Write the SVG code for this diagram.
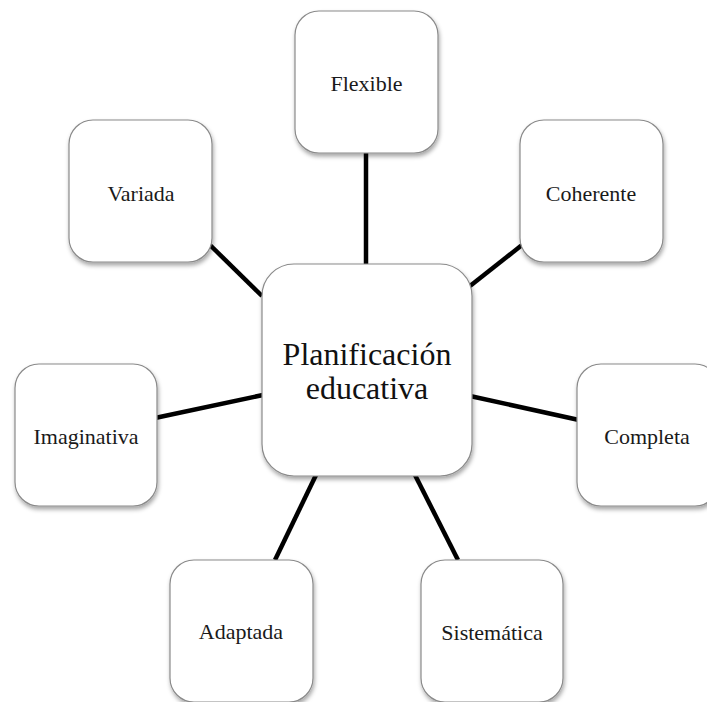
<svg xmlns="http://www.w3.org/2000/svg" width="707" height="702" viewBox="0 0 707 702">
  <style>
    .box { fill: #ffffff; stroke: #8a8a8a; stroke-width: 1.2; filter: url(#shadow); }
    .lbl { font-family: "Liberation Serif", "Times New Roman", serif; font-size: 22px; fill: #1a1a1a; text-anchor: middle; }
    .hub { font-family: "Liberation Serif", "Times New Roman", serif; font-size: 32px; fill: #111111; text-anchor: middle; }
    .link { stroke: #000000; stroke-width: 4.5; fill: none; }
  </style>
  <defs>
    <filter id="shadow" x="-10%" y="-10%" width="125%" height="130%">
      <feDropShadow dx="1" dy="3" stdDeviation="2.2" flood-color="#000000" flood-opacity="0.35"/>
    </filter>
  </defs>
  <rect width="707" height="702" fill="#ffffff"/>

  <!-- spokes from the central node to each quality -->
  <g id="connectors">
    <line class="link" x1="366" y1="150" x2="366" y2="266"/>
    <line class="link" x1="210" y1="245" x2="262" y2="296"/>
    <line class="link" x1="522" y1="245" x2="470" y2="286"/>
    <line class="link" x1="155" y1="418" x2="263" y2="395"/>
    <line class="link" x1="470" y1="396" x2="579" y2="420"/>
    <line class="link" x1="316" y1="475" x2="275" y2="560"/>
    <line class="link" x1="415" y1="475" x2="458" y2="560"/>
  </g>

  <g id="node-hub">
    <rect class="box" x="262" y="264" width="210" height="212" rx="32"/>
    <text class="hub" x="367" y="365">Planificación</text>
    <text class="hub" x="367" y="399">educativa</text>
  </g>

  <g id="node-flexible">
    <rect class="box" x="295" y="11" width="143" height="142" rx="24"/>
    <text class="lbl" x="366.5" y="91">Flexible</text>
  </g>

  <g id="node-variada">
    <rect class="box" x="69" y="120" width="143" height="142" rx="24"/>
    <text class="lbl" x="141" y="201">Variada</text>
  </g>

  <g id="node-coherente">
    <rect class="box" x="520" y="120" width="143" height="142" rx="24"/>
    <text class="lbl" x="591" y="201">Coherente</text>
  </g>

  <g id="node-imaginativa">
    <rect class="box" x="15" y="364" width="142" height="142" rx="24"/>
    <text class="lbl" x="86" y="444">Imaginativa</text>
  </g>

  <g id="node-completa">
    <rect class="box" x="577" y="364" width="142" height="142" rx="24"/>
    <text class="lbl" x="647" y="444">Completa</text>
  </g>

  <g id="node-adaptada">
    <rect class="box" x="170" y="560" width="143" height="142" rx="24"/>
    <text class="lbl" x="241" y="639">Adaptada</text>
  </g>

  <g id="node-sistematica">
    <rect class="box" x="421" y="560" width="142" height="142" rx="24"/>
    <text class="lbl" x="492" y="640">Sistemática</text>
  </g>
</svg>
